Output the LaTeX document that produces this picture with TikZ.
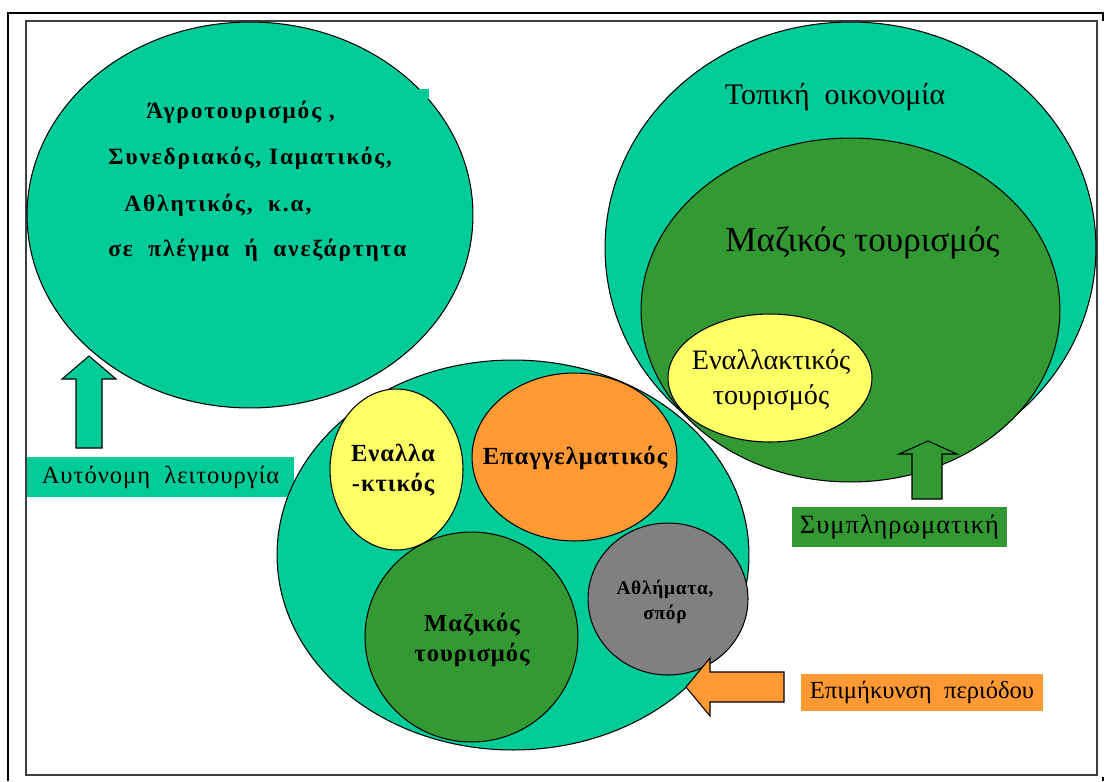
\documentclass[tikz,border=0pt]{standalone}
\usepackage{fontspec}
\setmainfont{Liberation Serif}
\newfontfamily\spaced[LetterSpace=4]{Liberation Serif}
\newfontfamily\widespaced[LetterSpace=8]{Liberation Serif}
\usetikzlibrary{shapes.geometric,positioning}

\definecolor{tealfill}{RGB}{0,204,153}
\definecolor{greenfill}{RGB}{51,153,51}
\definecolor{yellowfill}{RGB}{255,255,102}
\definecolor{orangefill}{RGB}{255,153,51}
\definecolor{greyfill}{RGB}{128,128,128}

\begin{document}
\begin{tikzpicture}[x=0.02cm, y=-0.02cm,
    bubble/.style={ellipse, draw, line width=0.6pt, inner sep=0pt},
    tag/.style={rectangle, inner sep=0pt, text centered},
    boldtext/.style={font=\spaced\bfseries\fontsize{14}{17}\selectfont, align=center},
    agroline/.style={font=\widespaced\bfseries\fontsize{13.3}{15}\selectfont, anchor=west, inner sep=0pt},
    blockarrow/.style={draw, line width=0.6pt}]

    \useasboundingbox (0,0) rectangle (1104,781);

    % frame
    \draw[line width=1.5pt] (8,781) -- (8,13) -- (1103,13) -- (1103,21);
    \draw[line width=1.5pt] (1103,777) -- (1103,781);
    \draw[black!75, line width=0.6pt] (26,21) rectangle (1097,775);

    % left bubble
    \node[bubble, fill=tealfill, minimum width=8.92cm, minimum height=7.72cm] (agro) at (250,215) {};
    \fill[tealfill] (419,89) rectangle (429,99);
    \node[agroline] (agro1) at (146,112) {Άγροτουρισμός ,};
    \node[agroline] (agro2) at (108,158) {Συνεδριακός, Ιαματικός,};
    \node[agroline] (agro3) at (124,205) {Αθλητικός,\ \ κ.α,};
    \node[agroline] (agro4) at (108,250) {σε\ \ πλέγμα\ \ ή\ \ ανεξάρτητα};

    \draw[blockarrow, fill=tealfill] (76,448) -- (76,379) -- (62,379) -- (89,356) -- (116,379) -- (102,379) -- (102,448) -- cycle;
    \node[tag, fill=tealfill, minimum width=5.34cm, minimum height=0.8cm, font=\spaced\fontsize{14}{17}\selectfont] (autonomi) at (160.5,477) {Αυτόνομη\ \ λειτουργία};

    % middle group
    \node[bubble, fill=tealfill, minimum width=9.44cm, minimum height=7.8cm] (kentro) at (513,555) {};
    \node[bubble, fill=yellowfill, minimum width=2.66cm, minimum height=3.22cm] (enalla) at (396.5,469.5) {};
    \node[bubble, fill=orangefill, minimum width=4.1cm, minimum height=3.36cm] (epag) at (574.5,457) {};
    \node[bubble, fill=greenfill, minimum width=4.26cm, minimum height=4.2cm] (maz) at (471.5,637) {};
    \node[bubble, fill=greyfill, minimum width=3.2cm, minimum height=3.04cm] (athl) at (668,599) {};
    \node[boldtext] (enallatext) at (393,470) {Εναλλα\\-κτικός};
    \node[boldtext] (epagtext) at (575,458) {Επαγγελματικός};
    \node[boldtext] (maztext) at (472,640) {Μαζικός\\τουρισμός};
    \node[boldtext, font=\spaced\bfseries\fontsize{11}{14}\selectfont] (athltext) at (665,602) {Αθλήματα,\\σπόρ};

    % right group
    \node[bubble, fill=tealfill, minimum width=9.82cm, minimum height=9.04cm] (topiki) at (850.5,248) {};
    \node[bubble, fill=greenfill, minimum width=8.38cm, minimum height=6.88cm] (mazikos) at (850.5,310) {};
    \node[bubble, fill=yellowfill, minimum width=4.08cm, minimum height=2.56cm] (enallaktikos) at (770,378) {};
    \node[font=\fontsize{17}{20}\selectfont] (topikitext) at (835,97) {Τοπική\ \ οικονομία};
    \node[font=\fontsize{20}{24}\selectfont] (mazikostext) at (862.5,243) {Μαζικός τουρισμός};
    \node[font=\fontsize{16}{20}\selectfont, align=center] (enallaktikostext) at (771,380) {Εναλλακτικός\\τουρισμός};

    \draw[blockarrow, fill=greenfill] (912,499) -- (912,454) -- (899,454) -- (928,441) -- (957,454) -- (942,454) -- (942,499) -- cycle;
    \node[tag, fill=greenfill, minimum width=4.3cm, minimum height=0.8cm, font=\spaced\fontsize{15}{18}\selectfont] (sympl) at (899.5,527) {Συμπληρωματική};

    \draw[blockarrow, fill=orangefill] (784,672) -- (710,672) -- (710,658) -- (686,687) -- (710,716) -- (710,702) -- (784,702) -- cycle;
    \node[tag, fill=orangefill, minimum width=4.84cm, minimum height=0.74cm, font=\fontsize{14}{17}\selectfont] (epimik) at (922,692.5) {Επιμήκυνση\ \ περιόδου};
\end{tikzpicture}
\end{document}
